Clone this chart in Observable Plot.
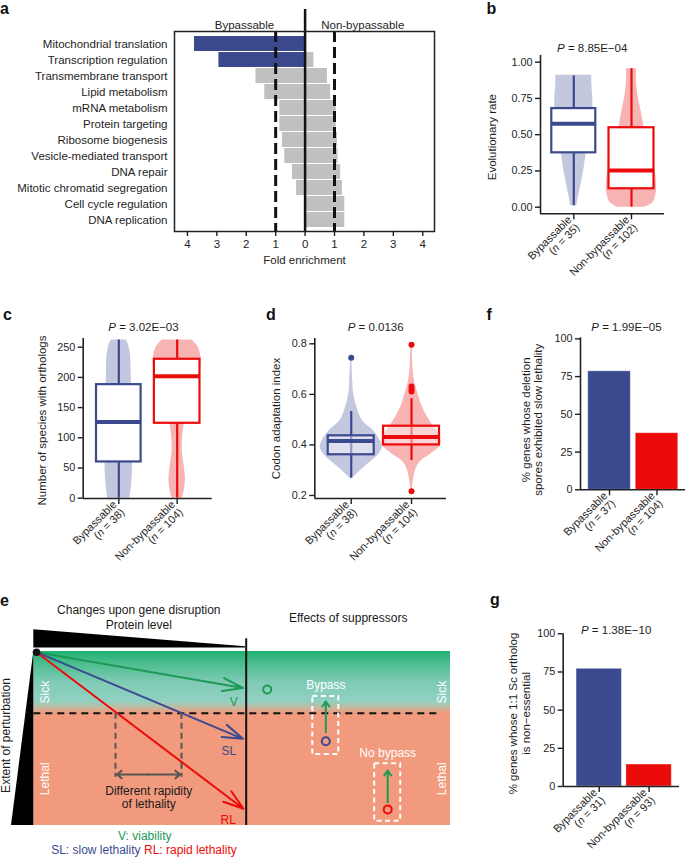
<!DOCTYPE html>
<html><head><meta charset="utf-8">
<script src="https://cdn.jsdelivr.net/npm/d3@7"></script>
<script src="https://cdn.jsdelivr.net/npm/@observablehq/plot@0.6"></script>
<style>
body{margin:0;background:#fff;}
#fig{position:relative;width:685px;height:860px;font-family:"Liberation Sans",Arial,Helvetica,sans-serif;overflow:hidden;background:#fff}
.lt{position:absolute;font-weight:bold;font-size:16px;line-height:16px;color:#111}
</style></head><body><div id="fig"></div><script>
// ---------------- DATA ----------------
// Panel a: GO term fold enrichment
const goTerms = ["Mitochondrial translation","Transcription regulation","Transmembrane transport","Lipid metabolism","mRNA metabolism","Protein targeting","Ribosome biogenesis","Vesicle-mediated transport","DNA repair","Mitotic chromatid segregation","Cell cycle regulation","DNA replication"];
const goBypassable    = [3.76, 2.93, 1.67, 1.37, 0.86, 0.86, 0.77, 0.69, 0.43, 0.29, 0, 0];
const goNonBypassable = [0, 0.30, 0.76, 0.87, 1.06, 1.06, 1.10, 1.12, 1.21, 1.27, 1.35, 1.35];
const goSignificant   = ["Mitochondrial translation","Transcription regulation"];
const foldTicks = [-4,-3,-2,-1,0,1,2,3,4];

const groups = ["Bypassable","Non-bypassable"];

// Panel b: evolutionary rate  [min, Q1, median, Q3, max]
const evoN = [35, 102];
const evoStats = [[0.01,0.375,0.575,0.68,0.905],[0.0,0.127,0.253,0.548,0.955]];
const evoViolinBypassable = [[0.01,0.12],[0.1,0.22],[0.2,0.34],[0.3,0.44],[0.375,0.5],[0.45,0.6],[0.55,0.72],[0.65,0.76],[0.75,0.76],[0.85,0.72],[0.91,0.72]];
const evoViolinNonBypassable = [[0,0.55],[0.03,0.85],[0.08,0.97],[0.15,1],[0.25,0.95],[0.35,0.8],[0.45,0.6],[0.55,0.5],[0.65,0.4],[0.75,0.28],[0.85,0.21],[0.955,0.2]];

// Panel c: number of species with orthologs
const orthoN = [38, 104];
const orthoStats = [[0,60,126,188,262],[0,124,202,230,262]];
const orthoViolinBypassable = [[0,0.44],[10,0.48],[40,0.54],[100,0.54],[150,0.52],[200,0.5],[240,0.46],[255,0.38],[262,0.3]];
const orthoViolinNonBypassable = [[0,0.2],[10,0.27],[30,0.33],[50,0.29],[80,0.2],[110,0.24],[130,0.32],[150,0.48],[170,0.64],[190,0.82],[210,0.92],[230,0.96],[250,0.84],[262,0.6]];

// Panel d: codon adaptation index
const caiN = [38, 104];
const caiStats = [[0.268,0.361,0.415,0.436,0.532],[0.338,0.40,0.431,0.474,0.583]];
const caiOutliers = [[0.745],[0.796,0.631,0.62,0.611,0.217]];
const caiViolinBypassable = [[0.268,0.03],[0.286,0.19],[0.312,0.42],[0.338,0.68],[0.365,0.9],[0.391,1],[0.42,0.92],[0.457,0.71],[0.497,0.36],[0.55,0.18],[0.6,0.08],[0.65,0.05],[0.745,0.02]];
const caiViolinNonBypassable = [[0.217,0.02],[0.26,0.06],[0.31,0.16],[0.338,0.32],[0.36,0.58],[0.4,0.94],[0.43,0.92],[0.457,0.81],[0.497,0.58],[0.55,0.35],[0.59,0.24],[0.65,0.1],[0.7,0.05],[0.796,0.02]];

// Panel f: % slow lethality
const slowN = [37, 104];
const slowPct = [78.5, 37.5];
// Panel g: % 1:1 Sc ortholog non-essential
const scN = [31, 93];
const scPct = [77.1, 14.4];

// Panel e: schematic (diagram units)
const eField = [{x1:33.3, x2:450, y1:61, y2:235}];
const eThreshold = [122.7];
const eOrigin = [{x:36, y:61.7}];
const eTrajectories = [
  {label:"V",  kind:"V",  x:242.5, y:97.5,  lx:233.3, ly:111.7},
  {label:"SL", kind:"SL", x:242.5, y:148.3, lx:228.3, ly:160.7},
  {label:"RL", kind:"RL", x:243, y:218.3, lx:227.7, ly:229.3}
];
const eRapidity = [{x:115},{x:181}];
const eSuppressorBoxes = [
  {label:"Bypass", kind:"SL", x:325.3, y1:106, y2:164, circle:150.7, arrowFrom:141.7, arrowTo:111, ly:94.3},
  {label:"No bypass", kind:"RL", x:387.2, y1:173.3, y2:230.7, circle:219, arrowFrom:211.7, arrowTo:180, ly:162.7}
];
const eViableCircle = [{x:266.7, y:99}];
const eZoneLabels = [
  {text:"Sick", x:45, y:101.7},{text:"Lethal", x:45, y:188.3},
  {text:"Sick", x:441.7, y:101.7},{text:"Lethal", x:441.7, y:188.3}
];

// ---------------- STYLE ----------------
const BLUE = "#3b4a8f", RED = "#ec0b0b", GREEN = "#1d9a55", GRAY = "#c0c0c0";
const COL = [BLUE, RED], LIGHT = ["#c4c8df", "#f8b3b3"];
const KIND = {V: GREEN, SL: BLUE, RL: RED};
const FONT = '"Liberation Sans", Arial, Helvetica, sans-serif';
const SVGNS = "http://www.w3.org/2000/svg";
const baseStyle = {fontFamily: FONT, fontSize: "11px", color: "#1e1e1e", background: "transparent", overflow: "visible"};

const fig = document.getElementById("fig");
function place(node, left, top) {
  node.style.position = "absolute"; node.style.left = left + "px"; node.style.top = top + "px";
  fig.appendChild(node); return node;
}
function rebuild(el, pre, it, post) {
  el.textContent = "";
  if (pre) el.appendChild(document.createTextNode(pre));
  const ts = document.createElementNS(SVGNS, "tspan");
  ts.setAttribute("font-style", "italic"); ts.textContent = it; el.appendChild(ts);
  el.appendChild(document.createTextNode(post));
}
function italicize(root) {
  root.querySelectorAll("text, tspan").forEach(el => {
    if (el.children.length) return;
    const t = el.textContent; let m;
    if ((m = t.match(/^\(n = (\d+)\)$/))) rebuild(el, "(", "n", ` = ${m[1]})`);
    else if ((m = t.match(/^P = (.+)$/))) rebuild(el, "", "P", ` = ${m[1]}`);
  });
}
const tickLabel = ns => k => `${groups[k-1]}\n(n = ${ns[k-1]})`;
const yLabelMark = (c) => Plot.text([c.yLabel], {frameAnchor: "left", rotate: -90, dx: c.yLabelDx, dy: c.yLabelDy || 0, fontSize: 11.5, textAnchor: "middle", lineAnchor: "middle", lineHeight: 1.1});

// ---------------- PANEL a ----------------
const aRows = goTerms.map((t, i) => ({term: t, byp: goBypassable[i], non: goNonBypassable[i], sig: goSignificant.includes(t)}));
const aSides = [{label: "Bypassable", x: -2.06}, {label: "Non-bypassable", x: 1.96}];
const svgA = Plot.plot({
  width: 440, height: 280, marginLeft: 174, marginRight: 6, marginTop: 31, marginBottom: 49,
  style: baseStyle,
  x: {domain: [-4.44, 4.40]},
  y: {domain: goTerms, padding: 0.08},
  color: {type: "identity"},
  marks: [
    Plot.barX(aRows.filter(d => d.byp > 0), {x1: d => -d.byp, x2: 0, y: "term", fill: d => d.sig ? BLUE : GRAY}),
    Plot.barX(aRows.filter(d => d.non > 0), {x1: 0, x2: "non", y: "term", fill: GRAY}),
    Plot.ruleX([-1, 1], {stroke: "#111", strokeWidth: 3, strokeDasharray: "11,5"}),
    Plot.ruleX([0], {stroke: "#111", strokeWidth: 2.5, insetTop: -22}),
    Plot.frame({stroke: "#222", strokeWidth: 1.5}),
    Plot.axisY({tickSize: 0, tickPadding: 7, fontSize: 11.5, label: null}),
    Plot.axisX({ticks: foldTicks, tickFormat: d => Math.abs(d), tickSize: 5, tickPadding: 3, fontSize: 11.5, label: null, strokeWidth: 1.4}),
    Plot.text(["Fold enrichment"], {frameAnchor: "bottom", dy: 32, fontSize: 11.5}),
    Plot.text(aSides, {x: "x", text: "label", frameAnchor: "top", dy: -11, fontSize: 11.5})
  ]
});
place(svgA, 0, 0);

// ---------------- BOX/VIOLIN PANELS ----------------
function boxPanel(c) {
  const kx = (c.width - c.ml - c.mr) / (c.xDomain[1] - c.xDomain[0]);
  const rows = c.stats.map((s, i) => ({i, x: i + 1, lo: s[0], q1: s[1], med: s[2], q3: s[3], hi: s[4], hw: c.boxHalf[i] / kx}));
  const marks = [];
  c.violins.forEach((v, i) => marks.push(Plot.areaX(v, {
    y: d => d[0], x1: d => i + 1 - d[1] * c.violinHalf / kx, x2: d => i + 1 + d[1] * c.violinHalf / kx,
    fill: LIGHT[i], curve: "catmull-rom"
  })));
  marks.push(Plot.ruleX(rows, {x: "x", y1: "lo", y2: "hi", stroke: d => COL[d.i], strokeWidth: 2.2}));
  marks.push(Plot.rect(rows, {x1: d => d.x - d.hw, x2: d => d.x + d.hw, y1: "q1", y2: "q3", fill: "white", fillOpacity: c.boxFill, stroke: d => COL[d.i], strokeWidth: 2.2}));
  marks.push(Plot.ruleY(rows, {y: "med", x1: d => d.x - d.hw, x2: d => d.x + d.hw, stroke: d => COL[d.i], strokeWidth: 4}));
  if (c.outliers) marks.push(Plot.dot(c.outliers.flatMap((o, i) => o.map(v => ({x: i + 1, v, i}))), {x: "x", y: "v", r: 3, fill: d => COL[d.i], stroke: null}));
  marks.push(Plot.ruleX([c.xDomain[0]], {stroke: "#222", strokeWidth: 1.6}));
  marks.push(Plot.ruleY([c.yDomain[0]], {stroke: "#222", strokeWidth: 1.6}));
  marks.push(Plot.axisY({ticks: c.yTicks, tickFormat: c.yFormat, tickSize: 5, tickPadding: 3, fontSize: 10.8, label: null, strokeWidth: 1.4}));
  marks.push(Plot.axisX({ticks: [1, 2], tickFormat: tickLabel(c.ns), tickRotate: -45, tickSize: 6, tickPadding: 2, fontSize: 11, label: null, strokeWidth: 1.4}));
  marks.push(Plot.text([c.title], {frameAnchor: "top", dx: c.titleDx, dy: c.titleDy, fontSize: 11.5}));
  marks.push(yLabelMark(c));
  const svg = Plot.plot({
    width: c.width, height: c.height, marginTop: c.mt, marginRight: c.mr, marginBottom: c.mb, marginLeft: c.ml,
    style: baseStyle, x: {domain: c.xDomain}, y: {domain: c.yDomain}, color: {type: "identity"}, marks
  });
  italicize(svg);
  return place(svg, c.left, c.top);
}

function barPanel(c) {
  const kx = (c.width - c.ml - c.mr) / (c.xDomain[1] - c.xDomain[0]);
  const hw = c.barHalf / kx;
  const rows = c.values.map((v, i) => ({i, x: i + 1, v}));
  const svg = Plot.plot({
    width: c.width, height: c.height, marginTop: c.mt, marginRight: c.mr, marginBottom: c.mb, marginLeft: c.ml,
    style: baseStyle, x: {domain: c.xDomain}, y: {domain: c.yDomain}, color: {type: "identity"},
    marks: [
      Plot.rect(rows, {x1: d => d.x - hw, x2: d => d.x + hw, y1: 0, y2: "v", fill: d => COL[d.i], stroke: "#ffffff", strokeOpacity: 0.5, strokeWidth: 0.8}),
      Plot.ruleX([c.xDomain[0]], {stroke: "#222", strokeWidth: 1.6}),
      Plot.ruleY([c.yDomain[0]], {stroke: "#222", strokeWidth: 1.6}),
      Plot.axisY({ticks: [0, 25, 50, 75, 100], tickSize: 5, tickPadding: 3, fontSize: 10.8, label: null, strokeWidth: 1.4}),
      Plot.axisX({ticks: [1, 2], tickFormat: tickLabel(c.ns), tickRotate: -45, tickSize: 6, tickPadding: 2, fontSize: 11, label: null, strokeWidth: 1.4}),
      Plot.text([c.title], {frameAnchor: "top", dx: c.titleDx, dy: c.titleDy, fontSize: 11.5}),
      yLabelMark(c)
    ]
  });
  italicize(svg);
  return place(svg, c.left, c.top);
}

boxPanel({left: 440, top: 0, width: 245, height: 280, mt: 55, mr: 21, mb: 66.7, ml: 100,
  xDomain: [0.423, 2.572], yDomain: [-0.0455, 1.046], yTicks: [0, 0.25, 0.5, 0.75, 1], yFormat: d3.format(".2f"),
  yLabel: "Evolutionary rate", yLabelDx: -48.3, yLabelDy: 2.5, title: "P = 8.85E\u221204", titleDx: -10.3, titleDy: -12,
  stats: evoStats, violins: [evoViolinBypassable, evoViolinNonBypassable], ns: evoN, boxHalf: [22, 22.5], violinHalf: 25, boxFill: 1});

boxPanel({left: 0, top: 280, width: 250, height: 310, mt: 58, mr: 38.3, mb: 92, ml: 82.7,
  xDomain: [0.39, 2.6], yDomain: [-0.5, 264.4], yTicks: [0, 50, 100, 150, 200, 250], yFormat: d3.format("d"),
  yLabel: "Number of species with orthologs", yLabelDx: -41, yLabelDy: 2, title: "P = 3.02E\u221203", titleDx: -4.2, titleDy: -15.3,
  stats: orthoStats, violins: [orthoViolinBypassable, orthoViolinNonBypassable], ns: orthoN, boxHalf: [22.3, 22.8], violinHalf: 25, boxFill: 1});

boxPanel({left: 250, top: 280, width: 200, height: 310, mt: 58, mr: 4, mb: 92, ml: 64.3,
  xDomain: [0.396, 2.58], yDomain: [0.188, 0.821], yTicks: [0.2, 0.4, 0.6, 0.8], yFormat: d3.format(".1f"),
  yLabel: "Codon adaptation index", yLabelDx: -39.3, title: "P = 0.0136", titleDx: -5, titleDy: -15.3,
  stats: caiStats, violins: [caiViolinBypassable, caiViolinNonBypassable], outliers: caiOutliers, ns: caiN, boxHalf: [23, 28], violinHalf: 31, boxFill: 0.45});

barPanel({left: 450, top: 280, width: 235, height: 310, mt: 57.3, mr: 0, mb: 100.7, ml: 130,
  xDomain: [0.389, 2.6], yDomain: [0, 100.7], barHalf: 21.3, values: slowPct, ns: slowN,
  yLabel: "% genes whose deletion\nspores exhibited slow lethality", yLabelDx: -48.5, yLabelDy: 6,
  title: "P = 1.99E\u221205", titleDx: -6.5, titleDy: -14.6});

barPanel({left: 450, top: 590, width: 235, height: 270, mt: 43.3, mr: 6, mb: 74, ml: 112.7,
  xDomain: [0.277, 2.61], yDomain: [0, 100], barHalf: 22.7, values: scPct, ns: scN,
  yLabel: "% genes whose 1:1 Sc ortholog\nis non\u2212essential", yLabelDx: -43.7, yLabelDy: 3.3,
  title: "P = 1.38E\u221210", titleDx: -5.2, titleDy: -8.3});

// ---------------- PANEL e ----------------
const eHeaders = [
  {text: "Changes upon gene disruption", x: 138.3, y: 20},
  {text: "Protein level", x: 138.3, y: 35},
  {text: "Effects of suppressors", x: 347.7, y: 27.7}
];
const svgE = Plot.plot({
  width: 455, height: 270, marginTop: 0, marginRight: 0, marginBottom: 0, marginLeft: 0,
  style: Object.assign({}, baseStyle, {fontSize: "12px"}),
  x: {domain: [0, 455], range: [0, 455], axis: null},
  y: {domain: [0, 270], range: [0, 270], axis: null},
  color: {type: "identity"},
  marks: [
    Plot.rect(eField, {x1: "x1", x2: "x2", y1: "y1", y2: "y2", fill: "#f19a7d"}),
    Plot.ruleY(eThreshold, {x1: 33.3, x2: 436.7, stroke: "#111", strokeWidth: 2, strokeDasharray: "7,5"}),
    // wedges
    Plot.areaY([{x: 33.3, t: 39.3, b: 57.5}, {x: 245, t: 56.3, b: 57.5}], {x: "x", y1: "t", y2: "b", fill: "#000"}),
    Plot.areaX([{y: 61.5, l: 33.3, r: 33.3}, {y: 235, l: 11, r: 33.3}], {y: "y", x1: "l", x2: "r", fill: "#000"}),
    Plot.ruleX([245.7], {y1: 48.3, y2: 235, stroke: "#111", strokeWidth: 2}),
    // trajectories
    Plot.arrow(eTrajectories, {x1: eOrigin[0].x, y1: eOrigin[0].y, x2: "x", y2: "y", stroke: d => KIND[d.kind], strokeWidth: 2, headLength: 16, headAngle: 36}),
    Plot.dot(eOrigin, {x: "x", y: "y", r: 3.8, fill: "#111"}),
    Plot.text(eTrajectories, {x: "lx", y: "ly", text: "label", fill: d => KIND[d.kind], fontSize: 12}),
    // rapidity
    Plot.ruleX(eRapidity, {x: "x", y1: 122.7, y2: 186.7, stroke: "#555", strokeWidth: 2, strokeDasharray: "6,4"}),
    Plot.arrow(eRapidity, {x1: 148, y1: 184, x2: d => d.x + (d.x < 148 ? 1.5 : -1.5), y2: 184, stroke: "#555", strokeWidth: 2, headLength: 4.5, headAngle: 80}),
    Plot.text(["Different rapidity\nof lethality"], {x: 148.3, y: 206.7, fontSize: 12, lineHeight: 1.1, fill: "#1a1a1a"}),
    // zone labels
    Plot.text(eZoneLabels, {x: "x", y: "y", text: "text", rotate: -90, fill: "white", fontSize: 12}),
    // suppressor effects
    Plot.dot(eViableCircle, {x: "x", y: "y", r: 4, stroke: GREEN, strokeWidth: 2, fill: "none"}),
    Plot.rect(eSuppressorBoxes, {x1: d => d.x - 13, x2: d => d.x + 13, y1: "y1", y2: "y2", fill: "none", stroke: "white", strokeWidth: 2, strokeDasharray: "5,3.5"}),
    Plot.arrow(eSuppressorBoxes, {x1: "x", x2: "x", y1: "arrowFrom", y2: "arrowTo", stroke: GREEN, strokeWidth: 2, headLength: 4.5, headAngle: 70}),
    Plot.dot(eSuppressorBoxes, {x: "x", y: "circle", r: 4, stroke: d => KIND[d.kind], strokeWidth: 2, fill: "none"}),
    Plot.text(eSuppressorBoxes, {x: "x", y: "ly", text: "label", fill: "white", fontSize: 12}),
    // headers
    Plot.text(eHeaders, {x: "x", y: "y", text: "text", fontSize: 12, fill: "#1a1a1a"}),
    Plot.text(["Extent of perturbation"], {x: 6, y: 145, rotate: -90, fontSize: 12, fill: "#1a1a1a"}),
    // legend
    Plot.text(["V: viability"], {x: 144.3, y: 246, fill: GREEN, fontSize: 12}),
    Plot.text(["SL: slow lethality"], {x: 140, y: 260, fill: BLUE, fontSize: 12, textAnchor: "end"}),
    Plot.text(["RL: rapid lethality"], {x: 143.5, y: 260, fill: RED, fontSize: 12, textAnchor: "start"})
  ]
});
{
  const defs = document.createElementNS(SVGNS, "defs");
  defs.innerHTML = '<linearGradient id="eGrad" x1="0" y1="0" x2="0" y2="1">' +
    '<stop offset="0" stop-color="#1fb172"/><stop offset="0.07" stop-color="#4cbd8e"/>' +
    '<stop offset="0.18" stop-color="#80cbb6"/><stop offset="0.29" stop-color="#92d0c1"/>' +
    '<stop offset="0.325" stop-color="#c4b9a0"/><stop offset="0.355" stop-color="#f19a7d"/>' +
    '<stop offset="1" stop-color="#f19a7d"/></linearGradient>';
  svgE.insertBefore(defs, svgE.firstChild);
  const r = svgE.querySelector('g[aria-label="rect"] rect');
  if (r) r.setAttribute("fill", "url(#eGrad)");
}
place(svgE, 0, 590);

// ---------------- PANEL LETTERS ----------------
const panelLetters = [["a", 0, 0.5], ["b", 486.5, 0.5], ["c", 3, 307], ["d", 266, 307], ["f", 486.5, 307], ["e", 0, 593], ["g", 490, 592]];
panelLetters.forEach(([t, x, y]) => {
  const d = document.createElement("div"); d.className = "lt"; d.textContent = t; place(d, x, y);
});
</script></body></html>
